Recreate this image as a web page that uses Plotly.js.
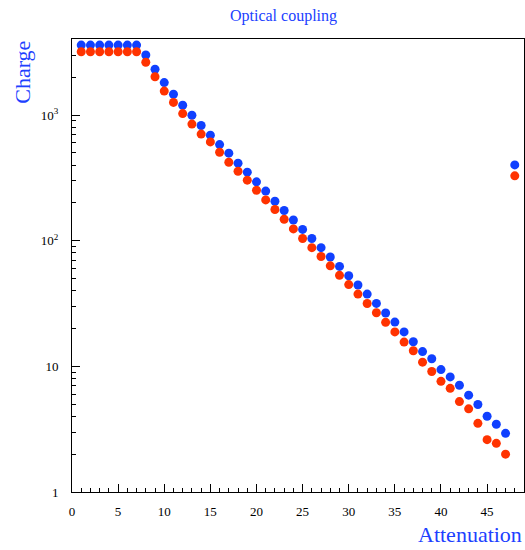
<!DOCTYPE html>
<html><head><meta charset="utf-8">
<script src="https://cdn.plot.ly/plotly-3.0.1.min.js"></script>
<style>html,body{margin:0;padding:0;background:#fff}</style>
</head><body><div id="chart" style="width:525px;height:550px"></div>
<script>
const attenuation = [1,2,3,4,5,6,7,8,9,10,11,12,13,14,15,16,17,18,19,20,21,22,23,24,25,26,27,28,29,30,31,32,33,34,35,36,37,38,39,40,41,42,43,44,45,46,47,48];
const chargeBlue = [3600,3600,3600,3600,3600,3600,3600,3005,2313,1811,1463,1197,996,825,691,582,497,414,351,294,248,206,174,146,123,104,88,74.1,62.4,52.6,44.4,37.6,31.7,26.6,22.5,18.8,15.7,13.1,11.5,9.42,8.24,7.07,5.9,4.97,4.01,3.46,2.93,401];
const chargeRed = [3190,3190,3190,3190,3190,3190,3190,2630,2015,1550,1260,1027,847,705,611,506,421,357,303,252,211,177,148,124,104,88,74.8,63.1,53,44.7,37.6,31.6,26.7,22.4,18.8,15.6,13.3,10.8,9.1,7.6,6.68,5.24,4.59,3.52,2.61,2.44,2.0,328];
const xTickVals = [0,5,10,15,20,25,30,35,40,45];
const yTickVals = [1,10,100,1000];
const yTickText = ['1','10','10<sup>2</sup>','10<sup>3</sup>'];

const blue = '#1040ff', red = '#ff3300', txtBlue = '#2040ff';
const serif = 'Liberation Serif, Times New Roman, serif';
const minorY = [];
for (const d of [1,10,100,1000]) for (let k=2;k<=9;k++) minorY.push(k*d);

const traces = [
  {x: attenuation, y: chargeBlue, mode:'markers', type:'scatter', marker:{color:blue, size:9}, cliponaxis:false},
  {x: attenuation, y: chargeRed, mode:'markers', type:'scatter', marker:{color:red, size:9}, cliponaxis:false}
];
const layout = {
  width:525, height:550, showlegend:false,
  paper_bgcolor:'#fff', plot_bgcolor:'#fff',
  margin:{l:72, r:1, t:39, b:58},
  font:{family:serif, color:'#000', size:13},
  title:{text:'Optical coupling', font:{family:serif, size:16, color:txtBlue}, x:0.54, xanchor:'center', y:0.983, yanchor:'top'},
  xaxis:{range:[0,49], tickvals:xTickVals, ticks:'inside', ticklen:8, tickcolor:'#000', tickwidth:1,
    showline:true, linecolor:'#000', linewidth:1, mirror:true, showgrid:false, zeroline:false,
    ticklabelstandoff:7, tickfont:{family:serif, size:13, color:'#000'},
    minor:{dtick:1, ticks:'inside', ticklen:4, tickcolor:'#000', showgrid:false}},
  yaxis:{type:'log', range:[0,3.605], tickvals:yTickVals, ticktext:yTickText, ticks:'inside', ticklen:8, tickcolor:'#000',
    showline:true, linecolor:'#000', linewidth:1, mirror:true, showgrid:false, zeroline:false,
    ticklabelstandoff:10, tickfont:{family:serif, size:13, color:'#000'},
    minor:{tickvals:minorY, ticks:'inside', ticklen:4, tickcolor:'#000', showgrid:false}},
  annotations:[
    {text:'Charge', xref:'paper', yref:'paper', x:-0.11, y:1, xanchor:'center', yanchor:'top', textangle:-90,
     showarrow:false, font:{family:serif, size:22, color:txtBlue}},
    {text:'Attenuation', xref:'paper', yref:'paper', x:1.0, y:-0.062, xanchor:'right', yanchor:'top',
     showarrow:false, font:{family:serif, size:22, color:txtBlue}}
  ]
};
Plotly.newPlot('chart', traces, layout, {displayModeBar:false, staticPlot:true});
</script></body></html>
